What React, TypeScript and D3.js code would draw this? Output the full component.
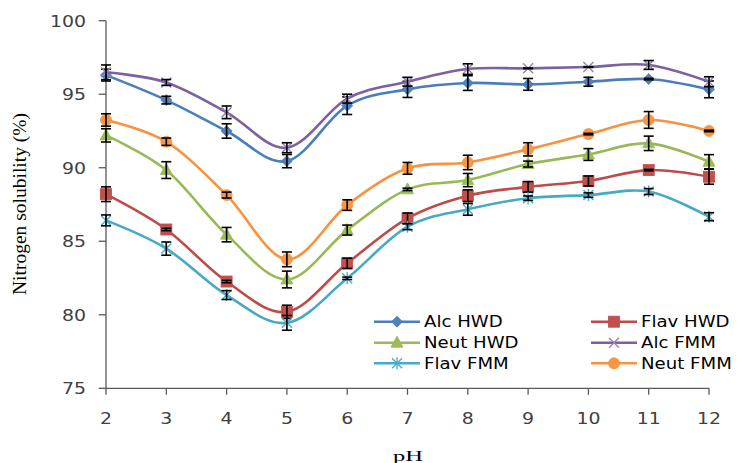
import React from "react";
import * as d3 from "d3";

const pH = [2, 3, 4, 5, 6, 7, 8, 9, 10, 11, 12];
const yTicks = [75, 80, 85, 90, 95, 100];

const seriesNames = ["Alc HWD", "Flav HWD", "Neut HWD", "Alc FMM", "Flav FMM", "Neut FMM"];

const alcHWD = [96.3, 94.6, 92.5, 90.45, 94.22, 95.33, 95.76, 95.67, 95.85, 96.03, 95.33];
const alcHWDErr = [0.4, 0.26, 0.49, 0.45, 0.6, 0.55, 0.5, 0.4, 0.3, 0.05, 0.57];
const flavHWD = [88.2, 85.8, 82.26, 80.2, 83.5, 86.56, 88.1, 88.7, 89.1, 89.84, 89.39];
const flavHWDErr = [0.5, 0.08, 0.08, 0.45, 0.35, 0.36, 0.4, 0.36, 0.34, 0.05, 0.51];
const neutHWD = [92.2, 89.84, 85.45, 82.4, 85.76, 88.53, 89.16, 90.25, 90.9, 91.66, 90.41];
const neutHWDErr = [0.45, 0.57, 0.49, 0.57, 0.34, 0.08, 0.45, 0.2, 0.4, 0.49, 0.48];
const alcFMM = [96.49, 95.8, 93.77, 91.36, 94.7, 95.85, 96.71, 96.76, 96.85, 96.99, 95.85];
const alcFMMErr = [0.5, 0.2, 0.43, 0.34, 0.3, 0.3, 0.36, 0.02, 0.02, 0.3, 0.34];
const flavFMM = [86.42, 84.5, 81.34, 79.45, 82.48, 85.99, 87.17, 87.93, 88.14, 88.38, 86.67];
const flavFMMErr = [0.37, 0.45, 0.3, 0.5, 0.08, 0.2, 0.4, 0.15, 0.15, 0.2, 0.27];
const neutFMM = [93.25, 91.77, 88.14, 83.77, 87.46, 89.96, 90.36, 91.25, 92.29, 93.25, 92.5];
const neutFMMErr = [0.42, 0.25, 0.2, 0.5, 0.36, 0.4, 0.49, 0.45, 0.05, 0.57, 0.05];

const values = [alcHWD, flavHWD, neutHWD, alcFMM, flavFMM, neutFMM];
const errors = [alcHWDErr, flavHWDErr, neutHWDErr, alcFMMErr, flavFMMErr, neutFMMErr];
const lineColors = ["#4A7EBB", "#BE4B48", "#98B954", "#7D60A0", "#46AAC5", "#F69240"];
const markerFill = ["#4F81BD", "#C0504D", "#9BBB59", "#9983B5", "#4BACC6", "#F79646"];
const markerKinds = ["diamond", "square", "triangle", "x", "star", "circle"];

const x = d3.scaleLinear().domain([2, 12]).range([106, 709]);
const y = d3.scaleLinear().domain([75, 100]).range([388.3, 20.7]);

function Marker({ kind, cx, cy, i }: { kind: string; cx: number; cy: number; i: number }) {
  const f = markerFill[i];
  const s = lineColors[i];
  const t = `translate(${cx},${cy})`;
  if (kind === "diamond") return <path transform={t} d="M0,-5.5L5.5,0L0,5.5L-5.5,0Z" fill={f} stroke={s} strokeWidth={0.8} />;
  if (kind === "square") return <rect x={cx - 5.5} y={cy - 5.5} width={11} height={11} fill={f} stroke={s} strokeWidth={0.8} />;
  if (kind === "triangle") return <path transform={t} d="M0,-6.5L6,4.5L-6,4.5Z" fill={f} stroke={s} strokeWidth={0.8} />;
  if (kind === "circle") return <circle cx={cx} cy={cy} r={5.5} fill={f} stroke={s} strokeWidth={0.8} />;
  if (kind === "x") return <path transform={t} d="M-5,-5L5,5M-5,5L5,-5" stroke={f} strokeWidth={1.4} fill="none" />;
  return <path transform={t} d="M-5,-5L5,5M-5,5L5,-5M0,-6L0,6" stroke={f} strokeWidth={1.4} fill="none" />;
}

const sansFont = "'DejaVu Sans', Verdana, sans-serif";
const serifFont = "'Liberation Serif', 'Times New Roman', serif";

export default function App() {
  const line = d3
    .line<number>()
    .x((_, k) => x(pH[k]))
    .y((v) => y(v))
    .curve(d3.curveCardinal.tension(0));

  const legendCols = [374, 591];
  const legendRows = [321.7, 342.7, 363.3];

  return (
    <svg
      width={739}
      height={463}
      style={{ position: "absolute", left: 0, top: 0, background: "#fff" }}
    >
      {/* axes */}
      <line x1={106} x2={106} y1={y(100)} y2={y(75)} stroke="#595959" strokeWidth={1.3} />
      <line x1={106} x2={709} y1={y(75)} y2={y(75)} stroke="#595959" strokeWidth={1.3} />
      {yTicks.map((t) => (
        <g key={"yt" + t}>
          <line x1={98.7} x2={106} y1={y(t)} y2={y(t)} stroke="#595959" strokeWidth={1.3} />
          <text
            transform={`translate(86,${y(t) + 5.8}) scale(1.18,1)`}
            textAnchor="end"
            fontFamily={sansFont}
            fontSize={16}
            fill="#404040"
          >
            {t}
          </text>
        </g>
      ))}
      {pH.map((t) => (
        <g key={"xt" + t}>
          <line x1={x(t)} x2={x(t)} y1={y(75)} y2={y(75) + 6.5} stroke="#595959" strokeWidth={1.3} />
          <text
            transform={`translate(${x(t)},${424.3}) scale(1.18,1)`}
            textAnchor="middle"
            fontFamily={sansFont}
            fontSize={16}
            fill="#404040"
          >
            {t}
          </text>
        </g>
      ))}
      <text
        transform="translate(26,204) rotate(-90)"
        textAnchor="middle"
        fontFamily={serifFont}
        fontSize={19.5}
        fill="#000"
      >
        Nitrogen solubility (%)
      </text>
      <text
        x={408}
        y={460.7}
        textAnchor="middle"
        fontFamily={serifFont}
        fontSize={15}
        textLength={30}
        lengthAdjust="spacingAndGlyphs"
        fill="#000"
      >
        pH
      </text>

      {/* series */}
      {values.map((vals, i) => (
        <g key={"s" + i}>
          <path d={line(vals) || ""} fill="none" stroke={lineColors[i]} strokeWidth={2.6} strokeLinejoin="round" />
          {vals.map((v, k) => (
            <Marker key={"m" + k} kind={markerKinds[i]} cx={x(pH[k])} cy={y(v)} i={i} />
          ))}
          {vals.map((v, k) => {
            const e = errors[i][k];
            const cx = x(pH[k]);
            const y1 = y(v + e);
            const y2 = y(v - e);
            return (
              <g key={"e" + k} stroke="#000" strokeWidth={1.6}>
                <line x1={cx} x2={cx} y1={y1} y2={y2} />
                <line x1={cx - 5} x2={cx + 5} y1={y1} y2={y1} />
                <line x1={cx - 5} x2={cx + 5} y1={y2} y2={y2} />
              </g>
            );
          })}
        </g>
      ))}

      {/* legend */}
      {seriesNames.map((name, i) => {
        const lx = legendCols[i % 2];
        const ly = legendRows[Math.floor(i / 2)];
        return (
          <g key={"l" + i}>
            <line x1={lx} x2={lx + 46} y1={ly} y2={ly} stroke={lineColors[i]} strokeWidth={2.6} />
            <Marker kind={markerKinds[i]} cx={lx + 23} cy={ly} i={i} />
            <text
              transform={`translate(${lx + 50},${ly + 5.7}) scale(1.17,1)`}
              fontFamily={sansFont}
              fontSize={15.5}
              fill="#000"
            >
              {name}
            </text>
          </g>
        );
      })}
    </svg>
  );
}
